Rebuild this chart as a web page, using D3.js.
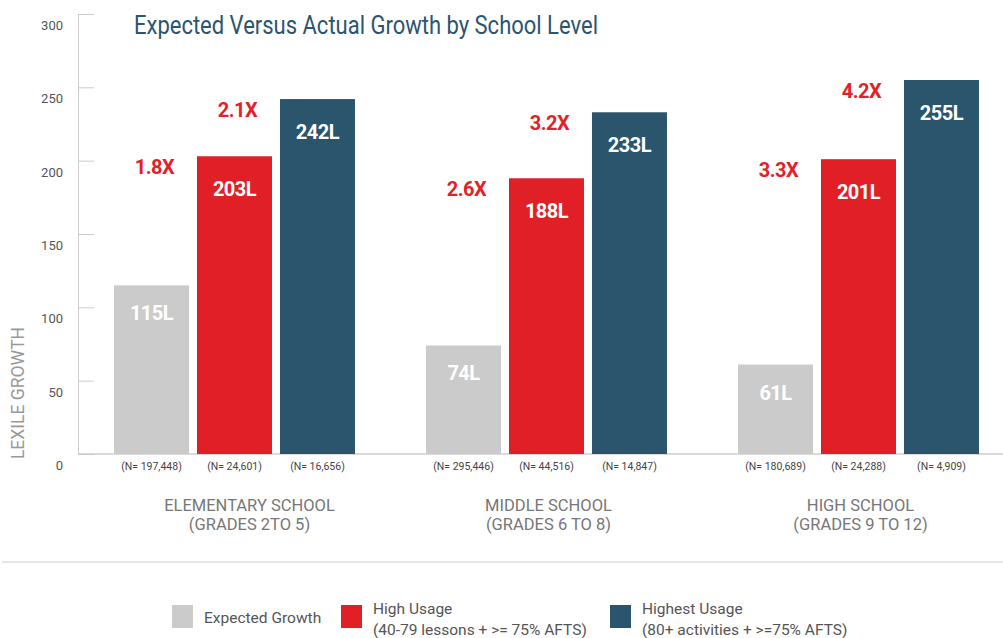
<!DOCTYPE html>
<html>
<head>
<meta charset="utf-8">
<script src="https://cdn.jsdelivr.net/npm/d3@7"></script>
<style>
  body { margin: 0; background: #fff; }
  text { font-family: Roboto, "Open Sans", sans-serif; }
</style>
</head>
<body>
<div id="chart"></div>
<script>
var width = 1003, height = 638;

// data
var schools = ["ELEMENTARY SCHOOL", "MIDDLE SCHOOL", "HIGH SCHOOL"];
var grades = ["(GRADES 2TO 5)", "(GRADES 6 TO 8)", "(GRADES 9 TO 12)"];
var seriesNames = ["Expected Growth", "High Usage", "Highest Usage"];
var expectedGrowth = [115, 74, 61];
var highUsage = [203, 188, 201];
var highestUsage = [242, 233, 255];
var nExpected = ["197,448", "295,446", "180,689"];
var nHigh = ["24,601", "44,516", "24,288"];
var nHighest = ["16,656", "14,847", "4,909"];
var multHigh = ["1.8X", "2.6X", "3.3X"];
var multHighest = ["2.1X", "3.2X", "4.2X"];
var yTicks = [0, 50, 100, 150, 200, 250, 300];

var colors = ["#cbcbcb", "#e01f27", "#2a556d"];
var values = [expectedGrowth, highUsage, highestUsage];
var counts = [nExpected, nHigh, nHighest];
var mults = [null, multHigh, multHighest];

var rows = [];
schools.forEach(function (s, i) {
  seriesNames.forEach(function (k, j) {
    rows.push({ school: s, gi: i, key: k, si: j, value: values[j][i], n: counts[j][i] });
  });
});

var svg = d3.select("#chart").append("svg")
  .attr("width", width).attr("height", height);

var x0 = d3.scaleBand().domain(schools).range([78.5, 1014.5]).paddingInner(0);
var x1 = d3.scaleBand().domain(seriesNames).range([0, x0.bandwidth()])
  .paddingInner(0.096).paddingOuter(0.428);
var y = d3.scaleLinear().domain([0, 300]).range([454, 14]);

// title
svg.append("text")
  .attr("x", 134).attr("y", 34)
  .attr("textLength", 464).attr("lengthAdjust", "spacingAndGlyphs")
  .style("font-size", "26px").style("fill", "#2b5570")
  .text("Expected Versus Actual Growth by School Level");

// y axis, ticks pointing inward, labels below the tick
var yAxis = svg.append("g")
  .attr("transform", "translate(78,0)")
  .call(d3.axisLeft(y).tickValues(yTicks).tickSizeInner(-16).tickSizeOuter(0).tickPadding(15));
yAxis.select(".domain").attr("stroke", "#cccccc");
yAxis.selectAll(".tick line").attr("stroke", "#cccccc");
yAxis.selectAll(".tick text")
  .attr("dy", "1.2em")
  .style("font-size", "13px").style("fill", "#555")
  .style("font-family", "Roboto, sans-serif");

svg.append("text")
  .attr("transform", "translate(24,393) rotate(-90)")
  .attr("text-anchor", "middle")
  .style("font-size", "17.5px").style("fill", "#999")
  .text("LEXILE GROWTH");

// baseline and separator
svg.append("line")
  .attr("x1", 78).attr("x2", width).attr("y1", y(0)).attr("y2", y(0))
  .attr("stroke", "#cccccc").attr("stroke-width", 1.5);
svg.append("line")
  .attr("x1", 2).attr("x2", width).attr("y1", 562).attr("y2", 562)
  .attr("stroke", "#dddddd").attr("stroke-width", 1.5);

var bx = function (d) { return x0(d.school) + x1(d.key); };

// bars
svg.append("g").selectAll("rect")
  .data(rows).enter().append("rect")
  .attr("x", bx)
  .attr("y", function (d) { return y(d.value); })
  .attr("width", x1.bandwidth())
  .attr("height", function (d) { return y(0) - y(d.value); })
  .attr("fill", function (d) { return colors[d.si]; });

// value labels inside bars
svg.append("g").selectAll("text")
  .data(rows).enter().append("text")
  .attr("x", function (d) { return bx(d) + x1.bandwidth() / 2; })
  .attr("y", function (d) { return y(d.value) + (d.si === 0 ? 28 : 33); })
  .attr("dy", "0.35em")
  .attr("text-anchor", "middle")
  .style("font-size", "20px").style("font-weight", "bold")
  .style("letter-spacing", "-0.5px")
  .style("fill", "#fff")
  .text(function (d) { return d.value + "L"; });

// multiplier labels, sitting over the previous bar at this bar's height
svg.append("g").selectAll("text")
  .data(rows.filter(function (d) { return d.si > 0; })).enter().append("text")
  .attr("x", function (d) { return x0(d.school) + x1(seriesNames[d.si - 1]) + x1.bandwidth() / 2 + 3; })
  .attr("y", function (d) { return y(d.value) + 11; })
  .attr("dy", "0.35em")
  .attr("text-anchor", "middle")
  .style("font-size", "20px").style("font-weight", "bold")
  .style("letter-spacing", "-0.5px")
  .style("fill", "#e32128")
  .text(function (d) { return mults[d.si][d.gi]; });

// N counts
svg.append("g").selectAll("text")
  .data(rows).enter().append("text")
  .attr("x", function (d) { return bx(d) + x1.bandwidth() / 2; })
  .attr("y", 470)
  .attr("text-anchor", "middle")
  .style("font-size", "10.5px").style("fill", "#444")
  .text(function (d) { return "(N= " + d.n + ")"; });

// group labels
var gx = function (d, i) { return x0(d) + x0.bandwidth() / 2 + (i === 0 ? 15 : 2); };
var groupLab = svg.append("g").selectAll("text")
  .data(schools).enter().append("text")
  .attr("text-anchor", "middle")
  .style("font-size", "16.5px").style("fill", "#777");
groupLab.append("tspan").attr("x", gx)
  .attr("y", 511).text(function (d) { return d; });
groupLab.append("tspan").attr("x", gx)
  .attr("y", 530).text(function (d, i) { return grades[i]; });

// legend
var legendX = [172, 341, 610];
var legendLines = [["Expected Growth"], ["High Usage", "(40-79 lessons + >= 75% AFTS)"], ["Highest Usage", "(80+ activities + >=75% AFTS)"]];
var lg = svg.append("g").selectAll("g")
  .data(seriesNames).enter().append("g")
  .attr("transform", function (d, i) { return "translate(" + legendX[i] + ",605)"; });
lg.append("rect")
  .attr("width", 21).attr("height", 23)
  .attr("fill", function (d, i) { return colors[i]; });
lg.each(function (d, i) {
  var g = d3.select(this);
  var lines = legendLines[i];
  lines.forEach(function (t, k) {
    g.append("text")
      .attr("x", 32)
      .attr("y", lines.length === 1 ? 18 : 9 + k * 21)
      .style("font-size", "15.5px").style("fill", "#555")
      .text(t);
  });
});
</script>
</body>
</html>
